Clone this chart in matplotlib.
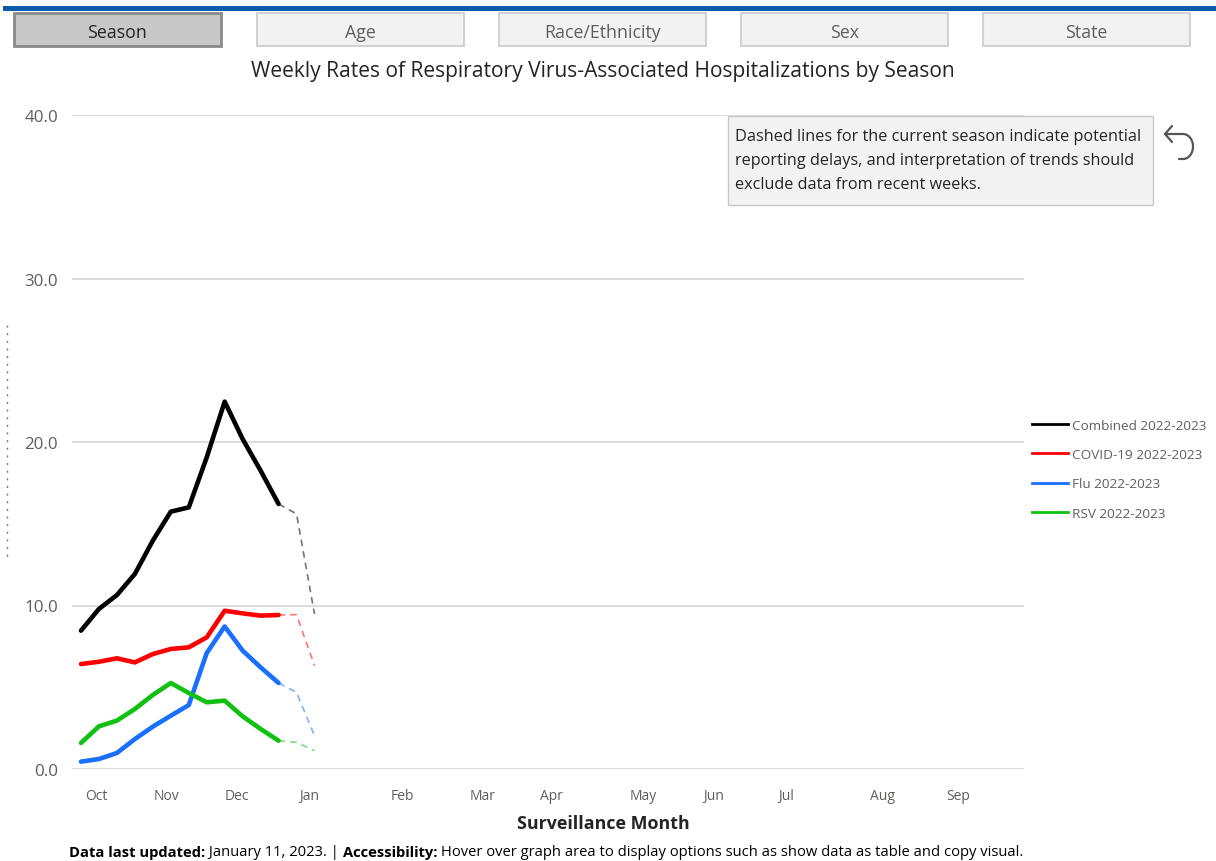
import matplotlib
matplotlib.use('Agg')
import matplotlib.pyplot as plt
from matplotlib.patches import Rectangle
from matplotlib.lines import Line2D
import numpy as np

plt.rcParams['font.family'] = ['Open Sans', 'DejaVu Sans']

# ---------------- data ----------------
weeks = list(range(14))          # week index from start of October
n_solid = 12                     # last 2 weeks shown dashed (reporting delays)
combined = [8.46, 9.79, 10.64, 11.93, 13.97, 15.74, 16.0, 19.06, 22.47, 20.18, 18.25, 16.21, 15.6, 9.48]
covid = [6.42, 6.56, 6.77, 6.52, 7.03, 7.34, 7.44, 8.05, 9.68, 9.52, 9.38, 9.42, 9.44, 6.32]
flu = [0.45, 0.61, 0.98, 1.83, 2.59, 3.26, 3.91, 7.09, 8.72, 7.24, 6.22, 5.26, 4.69, 2.04]
rsv = [1.59, 2.61, 2.96, 3.67, 4.53, 5.26, 4.65, 4.08, 4.18, 3.22, 2.45, 1.73, 1.63, 1.12]
series_names = ['Combined 2022-2023', 'COVID-19 2022-2023', 'Flu 2022-2023', 'RSV 2022-2023']
series_colors = ['#000000', '#ff0000', '#1a6fff', '#12c012']

month_labels = ['Oct', 'Nov', 'Dec', 'Jan', 'Feb', 'Mar', 'Apr', 'May', 'Jun', 'Jul', 'Aug', 'Sep']
month_ticks = [0.84, 4.73, 8.69, 12.7, 17.87, 22.33, 26.17, 31.29, 35.19, 39.25, 44.65, 48.83]
y_ticks = [0, 10, 20, 30, 40]

tabs = ['Season', 'Age', 'Race/Ethnicity', 'Sex', 'State']

W, H = 1216, 862
fig = plt.figure(figsize=(W / 100, H / 100), dpi=100)


def fx(x):
    return x / W


def fy(y):
    return 1 - y / H


# ---------------- header ----------------
fig.patches.append(Rectangle((fx(3), fy(12)), fx(1216 - 3), 5 / H, transform=fig.transFigure,
                             facecolor='#0a5cab', edgecolor='none', zorder=2))
tab_x = [14, 257, 499, 741, 983]
for i, (name, x0) in enumerate(zip(tabs, tab_x)):
    active = i == 0
    fig.patches.append(Rectangle((fx(x0), fy(47)), fx(207), 33 / H, transform=fig.transFigure,
                                 facecolor='#c8c8c8' if active else '#f2f2f2',
                                 edgecolor='#8a8a8a' if active else '#d2d2d2',
                                 lw=2 if active else 1.5, zorder=2))
    fig.text(fx(x0 + 103.5), fy(32.5), name, ha='center', va='center', fontsize=12.8,
             color='#252423' if active else '#605e5c', zorder=3)

fig.text(fx(603), fy(71), 'Weekly Rates of Respiratory Virus-Associated Hospitalizations by Season',
         ha='center', va='center', fontsize=15.1, color='#252423')

# ---------------- axes ----------------
ax = fig.add_axes([fx(72), fy(770), fx(952), 654 / H])
ax.set_xlim(-0.5, 52.5)
ax.set_ylim(0, 40)
for s in ax.spines.values():
    s.set_visible(False)
ax.set_yticks(y_ticks)
ax.set_yticklabels([f'{v:.1f}' for v in y_ticks])
ax.yaxis.grid(True, color='#d6d6d6', lw=1.2)
ax.set_axisbelow(True)
ax.set_xticks(month_ticks)
ax.set_xticklabels(month_labels)
ax.tick_params(axis='y', length=0, pad=10, labelsize=12.2, labelcolor='#605e5c')
ax.tick_params(axis='x', length=0, pad=14, labelsize=10, labelcolor='#605e5c')

handles = []
for vals, name, col in zip([combined, covid, flu, rsv], series_names, series_colors):
    ax.plot(weeks[:n_solid], vals[:n_solid], color=col, lw=3.3, solid_joinstyle='round',
            solid_capstyle='round', clip_on=False, zorder=3)
    ax.plot(weeks[n_solid - 1:], vals[n_solid - 1:], color=col, lw=1.2, ls=(0, (4, 3)),
            alpha=0.55, clip_on=False, zorder=3)
    handles.append(Line2D([0], [0], color=col, lw=2))

fig.legend(handles, series_names, loc='upper left', bbox_to_anchor=(fx(1032), fy(420)),
           frameon=False, fontsize=9.7, handlelength=2.7, handletextpad=0.25,
           labelspacing=1.2, labelcolor='#605e5c', borderaxespad=0, borderpad=0)

fig.text(fx(603), fy(824), 'Surveillance Month', ha='center', va='center', fontsize=12.9,
         fontweight='bold', color='#252423')

# ---------------- note box ----------------
fig.patches.append(Rectangle((fx(728), fy(206)), fx(425), 89 / H, transform=fig.transFigure,
                             facecolor='#f2f2f2', edgecolor='#c8c8c8', lw=1, zorder=2))
note_lines = ['Dashed lines for the current season indicate potential',
              'reporting delays, and interpretation of trends should',
              'exclude data from recent weeks.']
for i, t in enumerate(note_lines):
    fig.text(fx(735), fy(137 + 24 * i), t, ha='left', va='center', fontsize=11.7,
             color='#252423', zorder=3)

# undo arrow icon (drawn as a path)
theta = np.linspace(np.pi / 2, -np.pi / 2, 30)
arc_x = 1183 + 10 * np.cos(theta)
arc_y = 147.5 - 12.5 * np.sin(theta)
icon_x = np.concatenate([[1165], arc_x, [1179]])
icon_y = np.concatenate([[135], arc_y, [160]])
fig.lines.append(Line2D(fx(icon_x), fy(icon_y), transform=fig.transFigure, color='#555555',
                        lw=1.6, solid_capstyle='round'))
fig.lines.append(Line2D(fx(np.array([1172, 1165, 1172])), fy(np.array([127, 135, 143])),
                        transform=fig.transFigure, color='#555555', lw=1.6,
                        solid_capstyle='round', solid_joinstyle='miter'))

# clipped axis title remnants on the left edge (drawn as a faint dotted mark)
fig.lines.append(Line2D([fx(7), fx(7)], [fy(326), fy(560)], transform=fig.transFigure,
                        color='#4a4ac0', lw=1, ls=(0, (1.5, 4)), alpha=0.8))

# ---------------- footer ----------------
fig.canvas.draw()
renderer = fig.canvas.get_renderer()
pieces = [('Data last updated:', 'bold'), (' January 11, 2023. | ', 'normal'),
          ('Accessibility:', 'bold'),
          (' Hover over graph area to display options such as show data as table and copy visual.', 'normal')]
x = fx(69)
for txt, wt in pieces:
    t = fig.text(x, fy(853), txt, ha='left', va='center', fontsize=10.6, fontweight=wt,
                 color='#000000')
    bb = t.get_window_extent(renderer=renderer)
    x += bb.width / W

fig.savefig('out.png', dpi=100)
